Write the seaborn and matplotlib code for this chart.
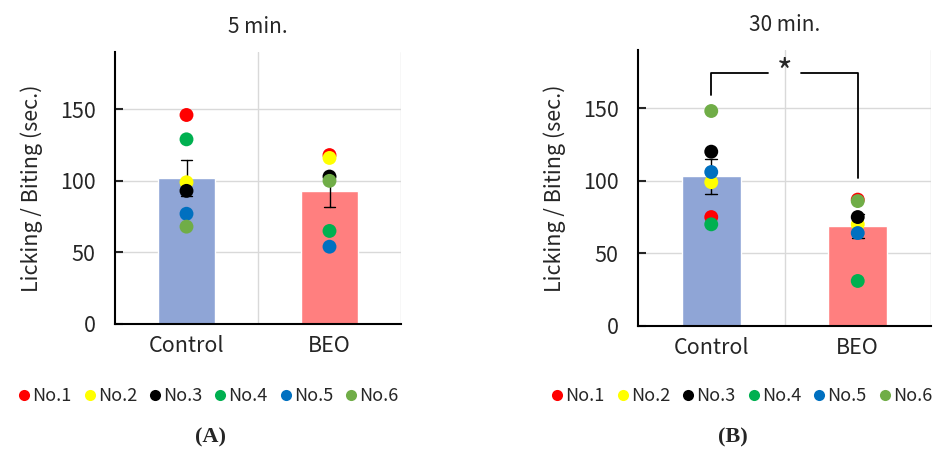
import matplotlib
matplotlib.use("Agg")
import matplotlib.pyplot as plt
import seaborn as sns
import pandas as pd
from matplotlib.lines import Line2D

subjects = ["No.1", "No.2", "No.3", "No.4", "No.5", "No.6"]
groups = ["Control", "BEO"]
a_control = [146, 99, 93, 129, 77, 68]
a_beo = [118, 116, 103, 65, 54, 100]
b_control = [75, 99, 120, 70, 106, 148]
b_beo = [87, 70, 75, 31, 64, 86]
titles = ["5 min.", "30 min."]
panel_labels = ["(A)", "(B)"]
yticks = [0, 50, 100, 150]

bar_colors = ["#8FA5D6", "#FF7F7F"]
point_colors = ["#FF0000", "#FFFF00", "#000000", "#00B050", "#0070C0", "#70AD47"]

sns.set_theme(style="white")
plt.rcParams["font.family"] = ["Noto Sans CJK JP", "DejaVu Sans"]

FS = 15.5


def make_df(ctrl, beo):
    rows = []
    for g, vals in zip(groups, [ctrl, beo]):
        for s, v in zip(subjects, vals):
            rows.append({"group": g, "subject": s, "value": v})
    return pd.DataFrame(rows)


fig = plt.figure(figsize=(9.36, 4.5), dpi=100)
axA = fig.add_axes([115 / 936, 1 - 324 / 450, 286 / 936, 272 / 450])
axB = fig.add_axes([638 / 936, 1 - 326 / 450, 293 / 936, 276 / 450])

for ax, (ctrl, beo), title in zip([axA, axB], [(a_control, a_beo), (b_control, b_beo)], titles):
    df = make_df(ctrl, beo)
    sns.barplot(data=df, x="group", y="value", hue="group", palette=bar_colors,
                errorbar="se", capsize=0.08, width=0.4, legend=False, ax=ax,
                err_kws={"color": "black", "linewidth": 1.0}, saturation=1)
    sns.stripplot(data=df, x="group", y="value", hue="subject", palette=point_colors,
                  jitter=False, dodge=False, size=10, linewidth=0, ax=ax, zorder=3)
    ax.set_ylim(0, 190)
    ax.set_xlim(-0.5, 1.5)
    ax.set_yticks(yticks)
    ax.set_xlabel("")
    ax.set_ylabel("Licking / Biting (sec.)", fontsize=FS, labelpad=12)
    ax.set_title(title, fontsize=15, pad=14)
    for y in [50, 100, 150]:
        ax.axhline(y, color="#D9D9D9", linewidth=1.0, zorder=0)
    for x in [0.5, 1.5]:
        ax.axvline(x, color="#D9D9D9", linewidth=1.0, zorder=0)
    for side in ["top", "right"]:
        ax.spines[side].set_visible(False)
    for side in ["left", "bottom"]:
        ax.spines[side].set_color("black")
        ax.spines[side].set_linewidth(1.5)
    ax.tick_params(axis="y", direction="in", length=6, width=1.5, labelsize=FS, pad=14, left=True)
    ax.tick_params(axis="x", length=0, labelsize=FS, pad=8)
    if ax.get_legend() is not None:
        ax.get_legend().remove()

for x0, loc in [(16, "center left"), (932, "center right")]:
    handles = [Line2D([0], [0], marker="o", linestyle="", markersize=8,
                      markerfacecolor=c, markeredgewidth=0) for c in point_colors]
    fig.legend(handles, subjects, loc=loc, bbox_to_anchor=(x0 / 936, 1 - 396 / 450),
               ncol=6, frameon=False, handletextpad=0.0, columnspacing=0.55,
               fontsize=13, handlelength=0.9, borderaxespad=0, borderpad=0)

# significance bracket on panel B
axB.plot([0, 0, 0.386], [159, 174, 174], color="black", linewidth=1.3, clip_on=False)
axB.plot([0.613, 1, 1], [174, 174, 102], color="black", linewidth=1.3, clip_on=False)
axB.text(0.5, 173, "*", ha="center", va="center", fontsize=24)

for cx, lab in [(211, panel_labels[0]), (733, panel_labels[1])]:
    fig.text(cx / 936, 1 - 437 / 450, lab, ha="center", va="center",
             fontsize=16, fontweight="bold", family="Liberation Serif")

fig.savefig("out.png", dpi=100)
